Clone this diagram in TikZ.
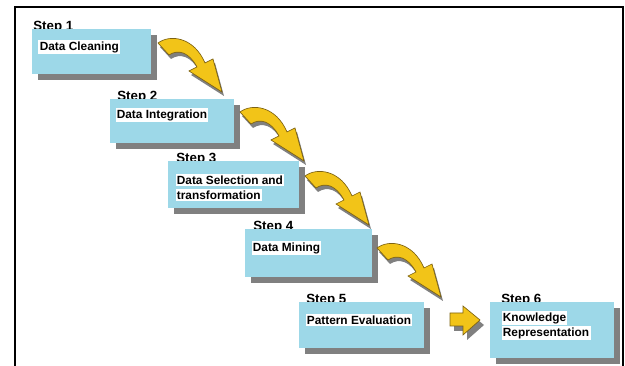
\documentclass[tikz,border=0pt]{standalone}
\usepackage{fontspec}
\setmainfont{Liberation Sans}
\usetikzlibrary{shadows,backgrounds}

\definecolor{boxblue}{RGB}{157,216,232}
\definecolor{arrowgold}{RGB}{242,196,24}
\definecolor{arrowedge}{RGB}{125,98,18}
\definecolor{shadowgray}{RGB}{128,128,128}

\newcommand{\hl}[1]{{\setlength{\fboxsep}{1pt}\colorbox{white}{#1}}}

\tikzset{every picture/.style={line width=0.75pt}}
\tikzset{
  stepbox/.style={fill=boxblue, anchor=north west, inner sep=0pt,
    drop shadow={shadow xshift=4.5pt, shadow yshift=-4.5pt, fill=shadowgray, opacity=1}},
  steplabel/.style={anchor=base west, inner sep=0pt, font=\bfseries\fontsize{10}{12}\selectfont},
  boxtext/.style={anchor=west, inner sep=0pt, align=left, font=\bfseries\fontsize{8.9}{11.25}\selectfont},
  curvearrow/.pic={
    \begin{scope}[yscale=-1]
    \fill[shadowgray, shift={(2,4)}] (0,0) .. controls (12,-9) and (36,-6) .. (47,20) -- (55,16) -- (64,49) -- (31,28) -- (39,24) .. controls (31,9) and (20,6) .. (11,12) -- cycle ;
    \filldraw[fill=arrowgold, draw=arrowedge, line width=0.5pt] (0,0) .. controls (12,-9) and (36,-6) .. (47,20) -- (55,16) -- (64,49) -- (31,28) -- (39,24) .. controls (31,9) and (20,6) .. (11,12) -- cycle ;
    \end{scope}
  },
  blockarrow/.pic={
    \begin{scope}[yscale=-1]
    \fill[shadowgray, shift={(4,5)}] (0,-7) -- (13,-7) -- (13,-14) -- (30,0) -- (13,15) -- (13,6) -- (0,6) -- cycle ;
    \filldraw[fill=arrowgold, draw=arrowedge, line width=0.5pt] (0,-7) -- (13,-7) -- (13,-14) -- (30,0) -- (13,15) -- (13,6) -- (0,6) -- cycle ;
    \end{scope}
  },
}

\begin{document}
\begin{tikzpicture}[x=0.75pt,y=0.75pt,yscale=-1,xscale=1]
\useasboundingbox (0,0) rectangle (625,366);

%Frame
\draw[line width=1.5pt] (15,370) -- (15,7) -- (623,7) -- (623,370) ;

%Shape: Step boxes
\node[stepbox, minimum width=89.25pt, minimum height=33.75pt] (b1) at (31,29) {};
\node[stepbox, minimum width=93pt, minimum height=33pt] (b2) at (109,99) {};
\node[stepbox, minimum width=98.25pt, minimum height=35.25pt] (b3) at (167,161) {};
\node[stepbox, minimum width=95.25pt, minimum height=36pt] (b4) at (244,229) {};
\node[stepbox, minimum width=93.75pt, minimum height=34.5pt] (b5) at (298,302) {};
\node[stepbox, minimum width=93pt, minimum height=42pt] (b6) at (489,302) {};

% Step labels (partly hidden by the boxes)
\begin{scope}[on background layer]
\node[steplabel] (s1) at ([xshift=1.5pt,yshift=1.2pt]b1.north west) {Step 1};
\node[steplabel] (s2) at ([xshift=6pt,yshift=1.2pt]b2.north west) {Step 2};
\node[steplabel] (s3) at ([xshift=6.75pt,yshift=1.2pt]b3.north west) {Step 3};
\node[steplabel] (s4) at ([xshift=6.75pt,yshift=1.2pt]b4.north west) {Step 4};
\node[steplabel] (s5) at ([xshift=6pt,yshift=0.8pt]b5.north west) {Step 5};
\node[steplabel] (s6) at ([xshift=9pt,yshift=0.8pt]b6.north west) {Step 6};
\end{scope}

% Text Node
\node[boxtext] (t1) at ([xshift=5.25pt,yshift=13.5pt]b1.north west) {\hl{Data Cleaning}};
% Text Node
\node[boxtext] (t2) at ([xshift=4.5pt,yshift=12pt]b2.north west) {\hl{Data Integration}};
% Text Node
\node[boxtext] (t3) at ([xshift=6pt,yshift=20pt]b3.north west) {\hl{Data Selection and}\\\hl{transformation}};
% Text Node
\node[boxtext] (t4) at ([xshift=5.25pt,yshift=14.25pt]b4.north west) {\hl{Data Mining}};
% Text Node
\node[boxtext] (t5) at ([xshift=5.25pt,yshift=13.5pt]b5.north west) {\hl{Pattern Evaluation}};
% Text Node
\node[boxtext] (t6) at ([xshift=9pt,yshift=17.6pt]b6.north west) {\hl{Knowledge}\\\hl{Representation}};

%Curved arrows
\pic at (158,43) {curvearrow};
\pic at (240,112) {curvearrow};
\pic at (305,176) {curvearrow};
\pic at (377,248) {curvearrow};

%Block arrow
\pic at (450,320) {blockarrow};

\end{tikzpicture}
\end{document}
